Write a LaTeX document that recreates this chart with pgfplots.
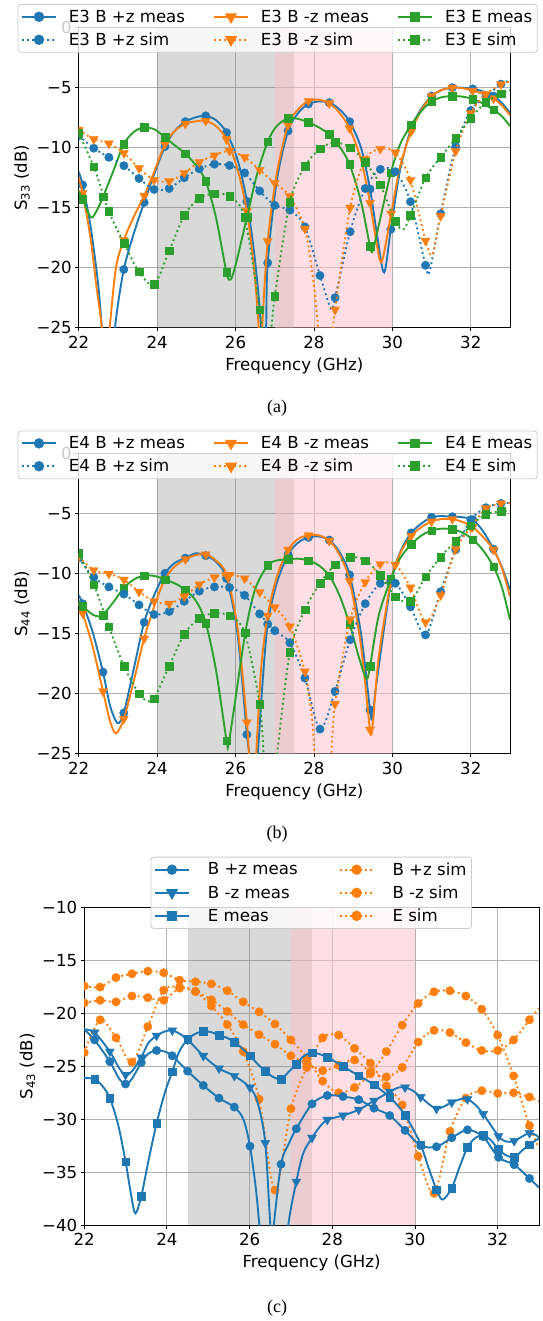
\documentclass[border=0pt]{standalone}
\usepackage{fontspec}
\setmainfont{DejaVu Sans}
\newfontfamily\capfont{Liberation Serif}
\usepackage{pgfplots}
\pgfplotsset{compat=1.18}
\definecolor{C0}{RGB}{31,119,180}
\definecolor{C1}{RGB}{255,127,14}
\definecolor{C2}{RGB}{44,160,44}
\definecolor{pinkc}{RGB}{255,192,203}
\definecolor{gridc}{RGB}{176,176,176}
\definecolor{legc}{RGB}{204,204,204}
\newcommand\fs{\fontsize{16.6}{19.9}\selectfont}
\newcommand\m[1]{\mbox{\textminus#1}}
\pgfplotsset{
  base/.style={
    scale only axis, xmin=22, xmax=33,
    xtick={22,24,26,28,30,32}, xticklabels={22,24,26,28,30,32},
    grid=major, major grid style={gridc, line width=0.8pt},
    axis line style={line width=0.8pt},
    tick align=outside, major tick length=3.5pt, tick style={black, line width=0.8pt},
    tick pos=left,
    every tick label/.append style={font=\fs},
    xticklabel style={yshift=-1.5pt},
    label style={font=\fs},
    xlabel={Frequency (GHz)}, xlabel style={yshift=-2pt},
    clip marker paths=true,
    legend cell align=left,
    legend image code/.code={\draw[mark repeat=2,mark phase=2,fill opacity=1,draw opacity=1,##1] plot coordinates {(0pt,0pt) (17pt,0pt) (34pt,0pt)};},
    legend style={font=\fs, draw=legc, line width=0.8pt, rounded corners=3pt, fill=white, fill opacity=0.8, text opacity=1, draw opacity=1, inner xsep=3pt, inner ysep=3.5pt, row sep=5pt},
  },
  leg3/.style={legend columns=3, legend style={/tikz/every odd column/.append style={column sep=10pt}, /tikz/every even column/.append style={column sep=26pt}}},
  leg2/.style={legend columns=2, legend style={/tikz/every odd column/.append style={column sep=16pt}, /tikz/every even column/.append style={column sep=39pt}}},
  meas/.style={line width=1.9pt, smooth, forget plot},
  sim/.style={line width=1.9pt, smooth, dash pattern=on 1.9pt off 3.1pt, forget plot},
  mc/.style={only marks, mark=*, mark size=4.2pt, forget plot},
  mt/.style={only marks, mark=triangle*, mark size=5.2pt, mark options={rotate=180}, forget plot},
  ms/.style={only marks, mark=square*, mark size=3.8pt, forget plot},
  lmc/.style={line width=1.9pt, mark=*, mark size=4.2pt, mark options={solid}},
  lmt/.style={line width=1.9pt, mark=triangle*, mark size=5.2pt, mark options={solid,rotate=180}},
  lms/.style={line width=1.9pt, mark=square*, mark size=3.8pt, mark options={solid}},
  dots/.style={dash pattern=on 1.9pt off 3.1pt},
}
\begin{document}
\begin{tikzpicture}
\useasboundingbox (0pt,0pt) rectangle (542pt,-1321pt);
% ================= (a) =================
\begin{axis}[base, leg3, at={(78.7pt,-327.7pt)}, anchor=south west, width=431.3pt, height=300pt,
  ymin=-25, ymax=0, ytick={-25,-20,-15,-10,-5,0}, yticklabels={\m{25},\m{20},\m{15},\m{10},\m{5},0},
  ylabel={S\textsubscript{33} (dB)},
  legend style={at={(0.4614,1.079)}, anchor=north}]
\addplot[draw=none, fill=gray, fill opacity=0.3, forget plot] coordinates {(24,-25) (24,0) (27.5,0) (27.5,-25)};
\addplot[draw=none, fill=pinkc, fill opacity=0.5, forget plot] coordinates {(27,-25) (27,0) (30,0) (30,-25)};
% B +z meas
\addplot[C0, meas] coordinates {(22.0,-12.0) (22.1,-13.1) (22.3,-16.5) (22.5,-21.5) (22.62,-26) (22.78,-30) (22.95,-24.3) (23.15,-20.15) (23.4,-17.2) (23.67,-14.56) (23.95,-12) (24.2,-9.9) (24.45,-8.6) (24.72,-7.83) (25.0,-7.45) (25.24,-7.35) (25.5,-7.7) (25.77,-8.74) (26.05,-11) (26.29,-14.47) (26.5,-19.5) (26.65,-25) (26.72,-32) (26.78,-25) (26.82,-19.6) (27.05,-12.8) (27.34,-8.6) (27.6,-7.1) (27.86,-6.36) (28.12,-6.15) (28.39,-6.25) (28.65,-6.8) (28.91,-7.83) (29.2,-10) (29.43,-13.45) (29.62,-17.5) (29.79,-20.4) (29.96,-16.8) (30.2,-11.8) (30.48,-8.43) (30.75,-6.7) (31.0,-5.7) (31.25,-5.2) (31.53,-5.0) (31.8,-5.0) (32.05,-5.1) (32.3,-5.3) (32.58,-5.7) (32.8,-6.3) (33.0,-7.1)};
\addplot[C0, mc] coordinates {(22.1,-13.1) (22.62,-26) (23.15,-20.15) (23.67,-14.56) (24.2,-9.9) (24.72,-7.83) (25.24,-7.35) (25.77,-8.74) (26.29,-14.47) (26.82,-19.6) (27.34,-8.6) (27.86,-6.36) (28.39,-6.25) (28.91,-7.83) (29.43,-13.45) (29.96,-16.8) (30.48,-8.43) (31.0,-5.7) (31.53,-5.0) (32.05,-5.1) (32.58,-5.7)};
% B -z meas
\addplot[C1, meas] coordinates {(22.0,-12.5) (22.1,-13.8) (22.3,-17.5) (22.45,-21.5) (22.59,-25) (22.68,-29) (22.79,-25) (22.95,-20) (23.15,-17.7) (23.4,-15.8) (23.67,-14.0) (23.95,-11.8) (24.2,-9.7) (24.45,-8.6) (24.72,-8.0) (25.0,-7.8) (25.24,-7.77) (25.5,-8.2) (25.77,-9.3) (26.05,-11.8) (26.29,-15.3) (26.47,-20) (26.59,-25) (26.63,-30) (26.68,-25) (26.82,-17.8) (27.05,-12.2) (27.34,-8.1) (27.6,-6.8) (27.86,-6.1) (28.12,-6.0) (28.39,-6.3) (28.65,-7.1) (28.91,-8.4) (29.2,-11) (29.43,-14.6) (29.6,-18) (29.73,-19.5) (29.97,-15.5) (30.2,-11.5) (30.48,-8.65) (30.75,-6.8) (31.0,-5.7) (31.25,-5.2) (31.53,-5.0) (31.8,-5.05) (32.05,-5.25) (32.3,-5.5) (32.58,-5.9) (32.8,-6.5) (33.0,-7.3)};
\addplot[C1, mt] coordinates {(22.1,-13.8) (22.62,-27) (23.15,-17.7) (23.67,-14.0) (24.2,-9.7) (24.72,-8.0) (25.24,-7.77) (25.77,-9.3) (26.29,-15.3) (26.82,-17.8) (27.34,-8.1) (27.86,-6.1) (28.39,-6.3) (28.91,-8.4) (29.43,-14.6) (29.97,-15.5) (30.48,-8.65) (31.0,-5.7) (31.53,-5.0) (32.05,-5.25) (32.58,-5.9)};
% E meas
\addplot[C2, meas] coordinates {(22.0,-13.6) (22.1,-14.3) (22.31,-15.8) (22.45,-15.3) (22.62,-14.1) (22.9,-11.8) (23.15,-9.7) (23.4,-8.7) (23.67,-8.3) (23.95,-8.5) (24.2,-9.15) (24.45,-9.8) (24.72,-10.5) (25.0,-11.5) (25.24,-12.8) (25.5,-15.8) (25.77,-20.4) (25.87,-21.0) (26.0,-19.8) (26.29,-15.8) (26.55,-12.2) (26.82,-9.5) (27.05,-8.2) (27.34,-7.55) (27.6,-7.6) (27.86,-7.9) (28.12,-8.3) (28.39,-8.9) (28.65,-9.9) (28.91,-11.4) (29.2,-14.5) (29.43,-18.2) (29.5,-18.6) (29.65,-16.5) (29.96,-12.1) (30.2,-9.7) (30.48,-8.1) (30.75,-6.9) (31.0,-6.15) (31.25,-5.8) (31.53,-5.7) (31.8,-5.75) (32.05,-5.95) (32.3,-6.3) (32.58,-6.85) (32.8,-7.4) (33.0,-8.2)};
\addplot[C2, ms] coordinates {(22.1,-14.3) (22.62,-14.1) (23.15,-9.7) (23.67,-8.3) (24.2,-9.15) (24.72,-10.5) (25.24,-12.8) (25.77,-20.4) (26.29,-15.8) (26.82,-9.5) (27.34,-7.55) (27.86,-7.9) (28.39,-8.9) (28.91,-11.4) (29.43,-18.2) (29.96,-12.1) (30.48,-8.1) (31.0,-6.15) (31.53,-5.7) (32.05,-5.95) (32.58,-6.85)};
% B +z sim
\addplot[C0, sim] coordinates {(22.0,-9.0) (22.385,-10.04) (22.769,-10.8) (23.154,-11.5) (23.538,-12.56) (23.923,-13.48) (24.308,-13.4) (24.692,-12.5) (25.077,-11.76) (25.462,-11.37) (25.846,-11.48) (26.231,-12.1) (26.615,-13.6) (27.0,-14.8) (27.385,-15.2) (27.769,-16.6) (28.154,-20.65) (28.43,-23.4) (28.538,-22.5) (28.923,-17.0) (29.308,-13.4) (29.692,-11.8) (30.077,-12.0) (30.462,-14.5) (30.846,-19.8) (30.95,-20.3) (31.231,-15.5) (31.615,-9.9) (32.0,-6.9) (32.385,-5.75) (32.769,-4.7) (33.0,-4.4)};
\addplot[C0, mc] coordinates {(22.0,-9.0) (22.385,-10.04) (22.769,-10.8) (23.154,-11.5) (23.538,-12.56) (23.923,-13.48) (24.308,-13.4) (24.692,-12.5) (25.077,-11.76) (25.462,-11.37) (25.846,-11.48) (26.231,-12.1) (26.615,-13.6) (27.0,-14.8) (27.385,-15.2) (27.769,-16.6) (28.154,-20.65) (28.538,-22.5) (28.923,-17.0) (29.308,-13.4) (29.692,-11.8) (30.077,-12.0) (30.462,-14.5) (30.846,-19.8) (31.231,-15.5) (31.615,-9.9) (32.0,-6.9) (32.385,-5.75) (32.769,-4.7)};
% B -z sim
\addplot[C1, sim] coordinates {(22.0,-8.5) (22.385,-9.3) (22.769,-9.65) (23.154,-10.45) (23.538,-11.7) (23.923,-12.7) (24.308,-12.8) (24.692,-12.1) (25.077,-11.2) (25.462,-10.65) (25.846,-10.25) (26.231,-10.8) (26.615,-11.85) (27.0,-12.95) (27.385,-14.05) (27.769,-16.75) (27.98,-21) (28.12,-25.5) (28.3,-33) (28.48,-25.5) (28.538,-23.5) (28.923,-15.0) (29.308,-10.95) (29.692,-10.1) (30.077,-10.4) (30.462,-12.7) (30.846,-17.75) (31.02,-18.9) (31.231,-15.7) (31.615,-10.3) (32.0,-7.1) (32.385,-5.55) (32.769,-4.72) (33.0,-4.5)};
\addplot[C1, mt] coordinates {(22.0,-8.5) (22.385,-9.3) (22.769,-9.65) (23.154,-10.45) (23.538,-11.7) (23.923,-12.7) (24.308,-12.8) (24.692,-12.1) (25.077,-11.2) (25.462,-10.65) (25.846,-10.25) (26.231,-10.8) (26.615,-11.85) (27.0,-12.95) (27.385,-14.05) (27.769,-16.75) (28.154,-30) (28.538,-23.5) (28.923,-15.0) (29.308,-10.95) (29.692,-10.1) (30.077,-10.4) (30.462,-12.7) (30.846,-17.75) (31.231,-15.7) (31.615,-10.3) (32.0,-7.1) (32.385,-5.55) (32.769,-4.72)};
% E sim
\addplot[C2, sim] coordinates {(22.0,-8.8) (22.385,-11.6) (22.769,-15.3) (23.154,-17.95) (23.538,-20.35) (23.923,-21.4) (24.308,-18.6) (24.692,-15.65) (25.077,-14.2) (25.462,-13.85) (25.846,-14.05) (26.231,-15.8) (26.615,-23.5) (26.8,-28) (27.0,-22.4) (27.385,-14.55) (27.769,-11.55) (28.154,-10.1) (28.538,-9.55) (28.923,-10.0) (29.308,-11.2) (29.692,-13.1) (30.077,-16.15) (30.28,-16.8) (30.462,-15.65) (30.846,-12.5) (31.231,-10.8) (31.615,-9.2) (32.0,-7.55) (32.385,-6.2) (32.769,-5.5) (33.0,-5.2)};
\addplot[C2, ms] coordinates {(22.0,-8.8) (22.385,-11.6) (22.769,-15.3) (23.154,-17.95) (23.538,-20.35) (23.923,-21.4) (24.308,-18.6) (24.692,-15.65) (25.077,-14.2) (25.462,-13.85) (25.846,-14.05) (26.231,-15.8) (26.615,-23.5) (27.0,-22.4) (27.385,-14.55) (27.769,-11.55) (28.154,-10.1) (28.538,-9.55) (28.923,-10.0) (29.308,-11.2) (29.692,-13.1) (30.077,-16.15) (30.462,-15.65) (30.846,-12.5) (31.231,-10.8) (31.615,-9.2) (32.0,-7.55) (32.385,-6.2) (32.769,-5.5)};
\addlegendimage{C0, lmc}\addlegendentry{E3 B +z meas}
\addlegendimage{C1, lmt}\addlegendentry{E3 B -z meas}
\addlegendimage{C2, lms}\addlegendentry{E3 E meas}
\addlegendimage{C0, lmc, dots}\addlegendentry{E3 B +z sim}
\addlegendimage{C1, lmt, dots}\addlegendentry{E3 B -z sim}
\addlegendimage{C2, lms, dots}\addlegendentry{E3 E sim}
\end{axis}
\node[font=\capfont\fontsize{18}{21}\selectfont] at (277pt,-408pt) {(a)};
% ================= (b) =================
\begin{axis}[base, leg3, at={(78.7pt,-753.7pt)}, anchor=south west, width=431.3pt, height=300pt,
  ymin=-25, ymax=0, ytick={-25,-20,-15,-10,-5,0}, yticklabels={\m{25},\m{20},\m{15},\m{10},\m{5},0},
  ylabel={S\textsubscript{44} (dB)},
  legend style={at={(0.4614,1.0767)}, anchor=north}]
\addplot[draw=none, fill=gray, fill opacity=0.3, forget plot] coordinates {(24,-25) (24,0) (27.5,0) (27.5,-25)};
\addplot[draw=none, fill=pinkc, fill opacity=0.5, forget plot] coordinates {(27,-25) (27,0) (30,0) (30,-25)};
% B +z meas
\addplot[C0, meas] coordinates {(22.0,-11.8) (22.1,-12.5) (22.35,-14.8) (22.62,-18.2) (22.8,-21) (22.99,-22.45) (23.15,-21.6) (23.4,-18) (23.67,-14.05) (23.95,-11.6) (24.2,-9.97) (24.45,-9.1) (24.72,-8.7) (24.98,-8.3) (25.24,-8.5) (25.5,-9.0) (25.77,-10.4) (26.05,-15) (26.29,-23.4) (26.37,-25.5) (26.47,-30) (26.56,-25.5) (26.68,-19.5) (26.82,-14.2) (27.05,-10.8) (27.34,-8.4) (27.6,-7.4) (27.86,-6.97) (28.12,-6.9) (28.39,-7.2) (28.65,-8.2) (28.91,-10.1) (29.2,-15) (29.43,-21.35) (29.49,-22.0) (29.6,-19) (29.96,-10.8) (30.2,-8.2) (30.48,-6.6) (30.75,-5.8) (31.0,-5.3) (31.25,-5.2) (31.53,-5.25) (31.8,-5.3) (32.05,-5.5) (32.3,-6.4) (32.58,-7.95) (32.8,-9.5) (33.0,-11.35)};
\addplot[C0, mc] coordinates {(22.1,-12.5) (22.62,-18.2) (23.15,-21.6) (23.67,-14.05) (24.2,-9.97) (24.72,-8.7) (25.24,-8.5) (25.77,-10.4) (26.29,-23.4) (26.82,-14.2) (27.34,-8.4) (27.86,-6.97) (28.39,-7.2) (28.91,-10.1) (29.43,-21.35) (29.96,-10.8) (30.48,-6.6) (31.0,-5.3) (31.53,-5.25) (32.05,-5.5) (32.58,-7.95)};
% B -z meas
\addplot[C1, meas] coordinates {(22.0,-12.5) (22.1,-13.3) (22.35,-16) (22.62,-19.8) (22.8,-22.3) (22.95,-23.3) (23.15,-22.1) (23.4,-19) (23.67,-15.4) (23.95,-12.5) (24.2,-10.45) (24.45,-9.4) (24.72,-8.8) (24.98,-8.45) (25.24,-8.4) (25.5,-8.9) (25.77,-10.1) (26.05,-14.5) (26.29,-22.4) (26.35,-25.5) (26.44,-30) (26.52,-25.5) (26.65,-18) (26.82,-13.5) (27.05,-10.3) (27.34,-8.0) (27.6,-7.1) (27.86,-6.8) (28.12,-6.8) (28.39,-7.25) (28.65,-8.4) (28.91,-10.6) (29.2,-16) (29.43,-23.0) (29.5,-22.5) (29.65,-17) (29.96,-10.7) (30.2,-8.3) (30.48,-6.85) (30.75,-6.1) (31.0,-5.65) (31.25,-5.45) (31.53,-5.45) (31.8,-5.7) (32.05,-6.1) (32.3,-6.9) (32.58,-8.0) (32.8,-9.6) (33.0,-11.9)};
\addplot[C1, mt] coordinates {(22.1,-13.3) (22.62,-19.8) (23.15,-22.1) (23.67,-15.4) (24.2,-10.45) (24.72,-8.8) (25.24,-8.4) (25.77,-10.1) (26.29,-22.4) (26.82,-13.5) (27.34,-8.0) (27.86,-6.8) (28.39,-7.25) (28.91,-10.6) (29.43,-23.0) (29.96,-10.7) (30.48,-6.85) (31.0,-5.65) (31.53,-5.45) (32.05,-6.1) (32.58,-8.0)};
% E meas
\addplot[C2, meas] coordinates {(22.0,-12.3) (22.1,-12.7) (22.35,-13.4) (22.5,-13.55) (22.62,-13.45) (22.9,-12.3) (23.15,-11.2) (23.4,-10.5) (23.67,-10.15) (23.95,-10.2) (24.2,-10.5) (24.45,-10.8) (24.72,-11.35) (25.0,-12.3) (25.24,-14.1) (25.5,-18) (25.77,-23.9) (25.82,-24.2) (25.95,-21.5) (26.25,-14.9) (26.5,-11.3) (26.82,-9.3) (27.05,-8.9) (27.34,-8.8) (27.6,-8.75) (27.86,-8.9) (28.12,-9.3) (28.39,-10.15) (28.65,-11.8) (28.91,-14.2) (29.15,-17) (29.34,-18.75) (29.43,-17.7) (29.65,-13.5) (29.96,-10.45) (30.2,-8.7) (30.48,-7.55) (30.75,-6.8) (31.0,-6.4) (31.25,-6.25) (31.53,-6.3) (31.8,-6.6) (32.05,-7.15) (32.3,-8.0) (32.58,-9.4) (32.8,-11.2) (33.0,-13.85)};
\addplot[C2, ms] coordinates {(22.1,-12.7) (22.62,-13.45) (23.15,-11.2) (23.67,-10.15) (24.2,-10.5) (24.72,-11.35) (25.24,-14.1) (25.77,-23.9) (26.25,-14.9) (26.82,-9.3) (27.34,-8.8) (27.86,-8.9) (28.39,-10.15) (28.91,-14.2) (29.43,-17.7) (29.96,-10.45) (30.48,-7.55) (31.0,-6.4) (31.53,-6.3) (32.05,-7.15) (32.58,-9.4)};
% B +z sim
\addplot[C0, sim] coordinates {(22.0,-8.7) (22.385,-10.3) (22.769,-11.1) (23.154,-11.7) (23.538,-12.6) (23.923,-13.4) (24.308,-13.15) (24.692,-12.3) (25.077,-11.45) (25.462,-11.1) (25.846,-11.15) (26.231,-11.8) (26.615,-13.35) (27.0,-14.75) (27.385,-15.75) (27.769,-18.7) (28.154,-22.95) (28.538,-19.8) (28.923,-15.5) (29.308,-12.5) (29.692,-10.8) (30.077,-10.8) (30.462,-12.75) (30.846,-15.1) (31.231,-11.5) (31.615,-8.0) (32.0,-5.5) (32.385,-4.5) (32.769,-4.15) (33.0,-4.1)};
\addplot[C0, mc] coordinates {(22.0,-8.7) (22.385,-10.3) (22.769,-11.1) (23.154,-11.7) (23.538,-12.6) (23.923,-13.4) (24.308,-13.15) (24.692,-12.3) (25.077,-11.45) (25.462,-11.1) (25.846,-11.15) (26.231,-11.8) (26.615,-13.35) (27.0,-14.75) (27.385,-15.75) (27.769,-18.7) (28.154,-22.95) (28.538,-19.8) (28.923,-15.5) (29.308,-12.5) (29.692,-10.8) (30.077,-10.8) (30.462,-12.75) (30.846,-15.1) (31.231,-11.5) (31.615,-8.0) (32.0,-5.5) (32.385,-4.5) (32.769,-4.15)};
% B -z sim
\addplot[C1, sim] coordinates {(22.0,-8.6) (22.385,-9.7) (22.769,-10.0) (23.154,-10.5) (23.538,-11.5) (23.923,-12.3) (24.308,-12.5) (24.692,-11.9) (25.077,-10.9) (25.462,-10.3) (25.846,-10.1) (26.231,-10.4) (26.615,-11.55) (27.0,-12.8) (27.385,-14.4) (27.769,-18.15) (27.95,-22) (28.03,-25.5) (28.22,-32) (28.43,-25.5) (28.538,-20.85) (28.923,-13.8) (29.308,-10.7) (29.692,-9.2) (30.077,-9.25) (30.462,-11.15) (30.846,-14.05) (31.231,-11.8) (31.615,-7.95) (32.0,-6.15) (32.385,-4.55) (32.769,-4.15) (33.0,-4.1)};
\addplot[C1, mt] coordinates {(22.0,-8.6) (22.385,-9.7) (22.769,-10.0) (23.154,-10.5) (23.538,-11.5) (23.923,-12.3) (24.308,-12.5) (24.692,-11.9) (25.077,-10.9) (25.462,-10.3) (25.846,-10.1) (26.231,-10.4) (26.615,-11.55) (27.0,-12.8) (27.385,-14.4) (27.769,-18.15) (28.154,-30) (28.538,-20.85) (28.923,-13.8) (29.308,-10.7) (29.692,-9.2) (30.077,-9.25) (30.462,-11.15) (30.846,-14.05) (31.231,-11.8) (31.615,-7.95) (32.0,-6.15) (32.385,-4.55) (32.769,-4.15)};
% E sim
\addplot[C2, sim] coordinates {(22.0,-8.3) (22.385,-10.9) (22.769,-14.4) (23.154,-17.7) (23.538,-20.0) (23.75,-20.6) (23.923,-20.4) (24.308,-17.7) (24.692,-15.05) (25.077,-13.7) (25.462,-13.3) (25.846,-13.5) (26.231,-14.9) (26.615,-20.85) (26.73,-25.5) (26.88,-29) (27.04,-25.5) (27.385,-16.55) (27.769,-13.0) (28.154,-10.8) (28.538,-9.25) (28.923,-8.6) (29.308,-8.9) (29.692,-10.1) (30.077,-11.9) (30.462,-12.3) (30.846,-10.25) (31.231,-8.6) (31.615,-7.3) (32.0,-6.0) (32.385,-5.05) (32.769,-4.8) (33.0,-4.75)};
\addplot[C2, ms] coordinates {(22.0,-8.3) (22.385,-10.9) (22.769,-14.4) (23.154,-17.7) (23.538,-20.0) (23.923,-20.4) (24.308,-17.7) (24.692,-15.05) (25.077,-13.7) (25.462,-13.3) (25.846,-13.5) (26.231,-14.9) (26.615,-20.85) (27.0,-28) (27.385,-16.55) (27.769,-13.0) (28.154,-10.8) (28.538,-9.25) (28.923,-8.6) (29.308,-8.9) (29.692,-10.1) (30.077,-11.9) (30.462,-12.3) (30.846,-10.25) (31.231,-8.6) (31.615,-7.3) (32.0,-6.0) (32.385,-5.05) (32.769,-4.8)};
\addlegendimage{C0, lmc}\addlegendentry{E4 B +z meas}
\addlegendimage{C1, lmt}\addlegendentry{E4 B -z meas}
\addlegendimage{C2, lms}\addlegendentry{E4 E meas}
\addlegendimage{C0, lmc, dots}\addlegendentry{E4 B +z sim}
\addlegendimage{C1, lmt, dots}\addlegendentry{E4 B -z sim}
\addlegendimage{C2, lms, dots}\addlegendentry{E4 E sim}
\end{axis}
\node[font=\capfont\fontsize{18}{21}\selectfont] at (277pt,-834pt) {(b)};
% ================= (c) =================
\begin{axis}[base, leg2, at={(84.2pt,-1225pt)}, anchor=south west, width=454.8pt, height=317.3pt,
  ymin=-40, ymax=-10, ytick={-40,-35,-30,-25,-20,-15,-10}, yticklabels={\m{40},\m{35},\m{30},\m{25},\m{20},\m{15},\m{10}},
  ylabel={S\textsubscript{43} (dB)},
  legend style={at={(0.4993,1.1607)}, anchor=north}]
\addplot[draw=none, fill=gray, fill opacity=0.3, forget plot] coordinates {(24.5,-40) (24.5,-10) (27.5,-10) (27.5,-40)};
\addplot[draw=none, fill=pinkc, fill opacity=0.5, forget plot] coordinates {(27,-40) (27,-10) (30,-10) (30,-40)};
% sims (orange)
\addplot[C1, sim] coordinates {(22.0,-17.4) (22.385,-17.5) (22.769,-16.6) (23.154,-16.25) (23.538,-16.0) (23.923,-16.15) (24.308,-16.85) (24.692,-17.0) (25.077,-17.2) (25.462,-17.85) (25.846,-18.9) (26.231,-19.85) (26.615,-21.0) (27.0,-22.5) (27.385,-24.2) (27.769,-26.4) (28.154,-27.5) (28.538,-27.0) (28.923,-25.7) (29.308,-23.6) (29.692,-21.1) (30.077,-19.05) (30.462,-17.95) (30.846,-17.85) (31.231,-18.35) (31.615,-19.6) (32.0,-22.05) (32.385,-25.9) (32.769,-30.6) (33.0,-32.7)};
\addplot[C1, mc] coordinates {(22.0,-17.4) (22.385,-17.5) (22.769,-16.6) (23.154,-16.25) (23.538,-16.0) (23.923,-16.15) (24.308,-16.85) (24.692,-17.0) (25.077,-17.2) (25.462,-17.85) (25.846,-18.9) (26.231,-19.85) (26.615,-21.0) (27.0,-22.5) (27.385,-24.2) (27.769,-26.4) (28.154,-27.5) (28.538,-27.0) (28.923,-25.7) (29.308,-23.6) (29.692,-21.1) (30.077,-19.05) (30.462,-17.95) (30.846,-17.85) (31.231,-18.35) (31.615,-19.6) (32.0,-22.05) (32.385,-25.9) (32.769,-30.6)};
\addplot[C1, sim] coordinates {(22.0,-19.0) (22.385,-18.75) (22.769,-18.9) (23.154,-18.35) (23.538,-18.5) (23.923,-18.75) (24.308,-17.6) (24.692,-17.95) (25.077,-18.7) (25.462,-19.8) (25.846,-21.05) (26.231,-22.0) (26.615,-22.9) (27.0,-24.0) (27.385,-24.7) (27.769,-25.4) (28.154,-24.9) (28.538,-24.4) (28.923,-25.5) (29.308,-26.0) (29.692,-25.1) (30.077,-22.7) (30.462,-21.6) (30.846,-21.8) (31.231,-22.75) (31.615,-23.5) (32.0,-23.5) (32.385,-22.5) (32.769,-20.6) (33.0,-19.5)};
\addplot[C1, mc] coordinates {(22.0,-19.0) (22.385,-18.75) (22.769,-18.9) (23.154,-18.35) (23.538,-18.5) (23.923,-18.75) (24.308,-17.6) (24.692,-17.95) (25.077,-18.7) (25.462,-19.8) (25.846,-21.05) (26.231,-22.0) (26.615,-22.9) (27.0,-24.0) (27.385,-24.7) (27.769,-25.4) (28.154,-24.9) (28.538,-24.4) (28.923,-25.5) (29.308,-26.0) (29.692,-25.1) (30.077,-22.7) (30.462,-21.6) (30.846,-21.8) (31.231,-22.75) (31.615,-23.5) (32.0,-23.5) (32.385,-22.5) (32.769,-20.6)};
\addplot[C1, sim] coordinates {(22.0,-23.7) (22.385,-20.6) (22.769,-22.3) (23.154,-24.6) (23.538,-21.25) (23.923,-17.8) (24.308,-17.5) (24.692,-17.9) (25.077,-19.3) (25.462,-21.05) (25.846,-23.6) (26.231,-28.1) (26.615,-36.7) (27.0,-29.0) (27.385,-25.1) (27.769,-22.3) (28.154,-22.05) (28.538,-23.3) (28.923,-24.7) (29.308,-26.85) (29.692,-28.65) (30.077,-33.5) (30.462,-37.0) (30.846,-31.15) (31.231,-28.0) (31.615,-27.3) (32.0,-27.55) (32.385,-27.5) (32.769,-27.9) (33.0,-28.3)};
\addplot[C1, mc] coordinates {(22.0,-23.7) (22.385,-20.6) (22.769,-22.3) (23.154,-24.6) (23.538,-21.25) (23.923,-17.8) (24.308,-17.5) (24.692,-17.9) (25.077,-19.3) (25.462,-21.05) (25.846,-23.6) (26.231,-28.1) (26.615,-36.7) (27.0,-29.0) (27.385,-25.1) (27.769,-22.3) (28.154,-22.05) (28.538,-23.3) (28.923,-24.7) (29.308,-26.85) (29.692,-28.65) (30.077,-33.5) (30.462,-37.0) (30.846,-31.15) (31.231,-28.0) (31.615,-27.3) (32.0,-27.55) (32.385,-27.5) (32.769,-27.9)};
% B +z meas
\addplot[C0, meas] coordinates {(22.0,-21.5) (22.25,-22.5) (22.62,-24.55) (22.85,-26.2) (23.0,-26.67) (23.15,-26.2) (23.38,-24.65) (23.55,-23.8) (23.75,-23.5) (23.95,-23.6) (24.13,-24.0) (24.5,-25.45) (24.88,-26.8) (25.26,-28.0) (25.63,-28.85) (25.85,-30) (26.01,-32.55) (26.15,-36.5) (26.25,-40.5) (26.4,-46) (26.57,-40.5) (26.76,-34.25) (26.95,-32.3) (27.13,-30.9) (27.51,-28.55) (27.88,-27.75) (28.26,-27.85) (28.64,-28.15) (29.01,-28.95) (29.39,-29.65) (29.76,-31.05) (30.14,-32.5) (30.52,-32.6) (30.89,-31.75) (31.27,-31.0) (31.65,-31.65) (32.02,-33.6) (32.4,-34.3) (32.77,-35.6) (33.0,-36.45)};
\addplot[C0, mc] coordinates {(22.25,-22.5) (22.62,-24.55) (23.0,-26.67) (23.38,-24.65) (23.75,-23.5) (24.13,-24.0) (24.5,-25.45) (24.88,-26.8) (25.26,-28.0) (25.63,-28.85) (26.01,-32.55) (26.38,-46) (26.76,-34.25) (27.13,-30.9) (27.51,-28.55) (27.88,-27.75) (28.26,-27.85) (28.64,-28.15) (29.01,-28.95) (29.39,-29.65) (29.76,-31.05) (30.14,-32.5) (30.52,-32.6) (30.89,-31.75) (31.27,-31.0) (31.65,-31.65) (32.02,-33.6) (32.4,-34.3) (32.77,-35.6)};
% B -z meas
\addplot[C0, meas] coordinates {(22.0,-21.5) (22.25,-21.8) (22.62,-23.6) (22.85,-25.2) (23.0,-25.8) (23.15,-25.5) (23.38,-24.15) (23.55,-22.8) (23.75,-22.1) (23.95,-21.7) (24.13,-21.6) (24.3,-21.9) (24.5,-22.45) (24.88,-24.0) (25.26,-25.2) (25.63,-25.9) (26.01,-27.0) (26.2,-28.5) (26.38,-32.25) (26.51,-40.5) (26.7,-50) (26.92,-40.5) (27.13,-35.9) (27.3,-33.2) (27.51,-31.75) (27.7,-30.7) (27.88,-30.05) (28.26,-29.65) (28.64,-29.1) (29.01,-28.25) (29.39,-27.4) (29.6,-27.0) (29.76,-27.0) (29.95,-27.3) (30.14,-27.9) (30.52,-29.0) (30.89,-28.4) (31.1,-28.1) (31.27,-28.1) (31.45,-28.6) (31.65,-29.5) (32.02,-31.6) (32.2,-32.1) (32.4,-32.05) (32.77,-31.3) (33.0,-31.7)};
\addplot[C0, mt] coordinates {(22.25,-21.8) (22.62,-23.6) (23.0,-25.8) (23.38,-24.15) (23.75,-22.1) (24.13,-21.6) (24.5,-22.45) (24.88,-24.0) (25.26,-25.2) (25.63,-25.9) (26.01,-27.0) (26.38,-32.25) (26.76,-48) (27.13,-35.9) (27.51,-31.75) (27.88,-30.05) (28.26,-29.65) (28.64,-29.1) (29.01,-28.25) (29.39,-27.4) (29.76,-27.0) (30.14,-27.9) (30.52,-29.0) (30.89,-28.4) (31.27,-28.1) (31.65,-29.5) (32.02,-31.6) (32.4,-32.05) (32.77,-31.3)};
% E meas
\addplot[C0, meas] coordinates {(22.0,-26.1) (22.25,-26.2) (22.45,-26.9) (22.62,-28.0) (22.82,-30.5) (23.0,-34.0) (23.15,-37.5) (23.24,-38.9) (23.38,-37.3) (23.55,-34) (23.75,-30.4) (23.95,-27.5) (24.13,-25.5) (24.3,-23.6) (24.5,-22.45) (24.7,-21.9) (24.88,-21.7) (25.06,-21.75) (25.26,-22.05) (25.45,-22.3) (25.63,-22.7) (25.82,-23.3) (26.01,-24.0) (26.2,-24.8) (26.38,-25.45) (26.57,-26.0) (26.76,-26.2) (26.95,-25.5) (27.13,-24.8) (27.32,-24.0) (27.51,-23.7) (27.7,-23.85) (27.88,-24.15) (28.07,-24.55) (28.26,-25.0) (28.45,-25.45) (28.64,-25.9) (28.83,-26.3) (29.01,-26.75) (29.2,-27.3) (29.39,-27.9) (29.58,-28.7) (29.76,-29.6) (29.95,-30.9) (30.14,-32.4) (30.33,-34.6) (30.52,-36.65) (30.67,-37.6) (30.89,-36.5) (31.08,-34.5) (31.27,-32.65) (31.45,-31.8) (31.65,-31.5) (31.84,-32.0) (32.02,-32.85) (32.2,-33.4) (32.4,-33.6) (32.58,-33.0) (32.77,-32.4) (33.0,-31.8)};
\addplot[C0, ms] coordinates {(22.25,-26.2) (22.62,-28.0) (23.0,-34.0) (23.38,-37.3) (23.75,-30.4) (24.13,-25.5) (24.5,-22.45) (24.88,-21.7) (25.26,-22.05) (25.63,-22.7) (26.01,-24.0) (26.38,-25.45) (26.76,-26.2) (27.13,-24.8) (27.51,-23.7) (27.88,-24.15) (28.26,-25.0) (28.64,-25.9) (29.01,-26.75) (29.39,-27.9) (29.76,-29.6) (30.14,-32.4) (30.52,-36.65) (30.89,-36.5) (31.27,-32.65) (31.65,-31.5) (32.02,-32.85) (32.4,-33.6) (32.77,-32.4)};
\addlegendimage{C0, lmc}\addlegendentry{B +z meas}
\addlegendimage{C1, lmc, dots}\addlegendentry{B +z sim}
\addlegendimage{C0, lmt}\addlegendentry{B -z meas}
\addlegendimage{C1, lmc, dots}\addlegendentry{B -z sim}
\addlegendimage{C0, lms}\addlegendentry{E meas}
\addlegendimage{C1, lmc, dots}\addlegendentry{E sim}
\end{axis}
\node[font=\capfont\fontsize{18}{21}\selectfont] at (277pt,-1308pt) {(c)};
\end{tikzpicture}
\end{document}
